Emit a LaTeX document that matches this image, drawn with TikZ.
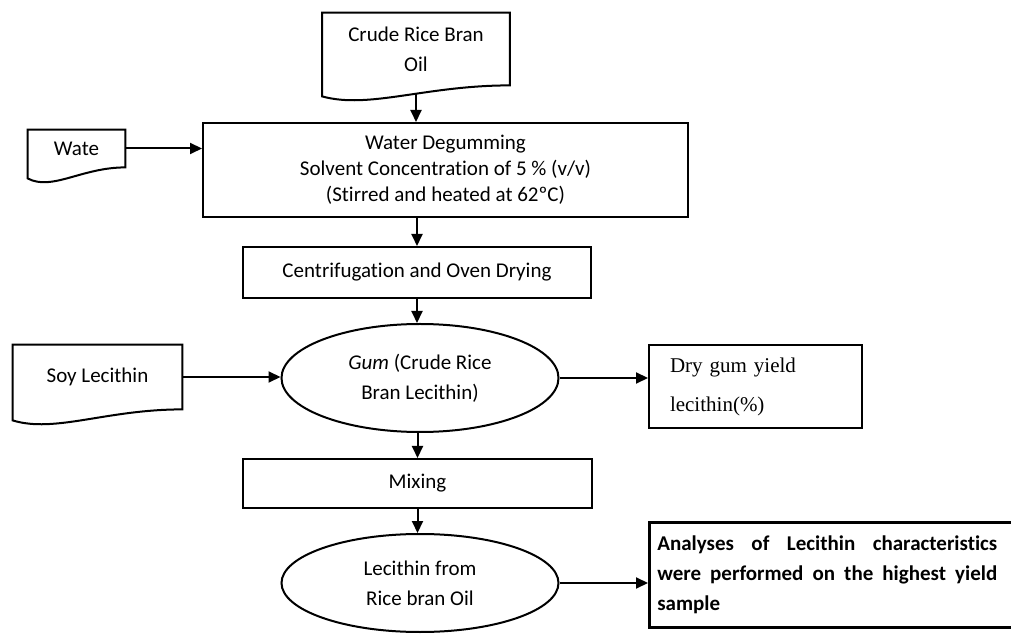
\documentclass[tikz,border=0pt]{standalone}
\usepackage{fontspec}
\setmainfont{Carlito}[Ligatures=NoCommon]
\newfontfamily\timesfont{Liberation Serif}
\usetikzlibrary{arrows.meta, shapes.geometric, calc}

\begin{document}
\begin{tikzpicture}[x=0.5pt, y=-0.5pt,
    every node/.style={font=\fontsize{10.5}{15}\selectfont},
    box/.style={draw, line width=1pt, inner sep=0pt, align=center},
    doc/.style={inner sep=0pt, align=center},
    oval/.style={draw, ellipse, line width=1pt, inner sep=0pt, align=center, minimum width=138.5pt},
    flow/.style={line width=1pt, -{Triangle[length=6pt, width=5.5pt]}},
    docline/.style={line width=1pt, line join=miter}]
  \useasboundingbox (0,0) rectangle (1011,635);
  % inputs (document shapes)
  \node[doc, minimum width=93.5pt, minimum height=36pt] (crude) at (416,49) {Crude Rice Bran\\Oil};
  \node[doc, minimum width=48.5pt, minimum height=18.5pt] (wate) at (76.5,148.5) {Wate};
  \node[doc, minimum width=84.5pt, minimum height=32pt] (soy) at (97.5,377) {Soy Lecithin};
  \foreach \n in {crude, wate, soy}
    \draw[docline] (\n.north west) -- (\n.north east) -- (\n.south east)
      .. controls ($(\n.south east)!0.45!(\n.south west)$) and ($(\n.south east)!0.75!(\n.south west)+(0,24)$) ..
      ($(\n.south west)+(0,11)$) -- cycle;
  % main column
  \node[box, minimum width=242.5pt, minimum height=47pt, font=\fontsize{10.5}{13}\selectfont] (water) at (445.5,170)
    {Water Degumming\\Solvent Concentration of 5 \% (v/v)\\(Stirred and heated at 62ºC)};
  \node[box, minimum width=174pt, minimum height=25.5pt] (centr) at (417,272.5) {Centrifugation and Oven Drying};
  \node[oval, minimum height=54pt] (gum) at (420,378) {\textit{Gum} (Crude Rice\\Bran Lecithin)};
  \node[box, minimum width=174.5pt, minimum height=24.5pt] (mix) at (417.5,483.5) {Mixing};
  \node[oval, minimum height=49pt] (lec) at (420,583) {Lecithin from\\Rice bran Oil};
  % outputs
  \node[draw, line width=1pt, text width=85.5pt, inner xsep=10.5pt, minimum height=41.5pt, align=left,
    font=\timesfont\fontsize{10.5}{19.5}\selectfont] (dry) at (755.5,386.5) {Dry gum yield\\lecithin(\%)};
  \node[draw, line width=1.3pt, anchor=north west, inner xsep=4pt, minimum height=52.5pt,
    font=\bfseries\fontsize{10.5}{15}\selectfont] (fin) at (648,521)
    {\parbox{170pt}{Analyses of Lecithin characteristics were performed on the highest yield sample}\hspace*{40pt}\rule{0pt}{1pt}};
  % connectors
  \draw[flow] ([yshift=-4pt]crude.south) -- (crude.south |- water.north);
  \draw[flow] (wate.east) -- (wate.east -| water.west);
  \draw[flow] (centr.north |- water.south) -- (centr.north);
  \draw[flow] (centr.south) -- (centr.south |- gum.north);
  \draw[flow] (soy.east) -- (soy.east -| gum.west);
  \draw[flow] (gum.east) -- (gum.east -| dry.west);
  \draw[flow] (mix.north |- gum.south) -- (mix.north);
  \draw[flow] (mix.south) -- (mix.south |- lec.north);
  \draw[flow] (lec.east) -- (lec.east -| fin.west);
\end{tikzpicture}
\end{document}
